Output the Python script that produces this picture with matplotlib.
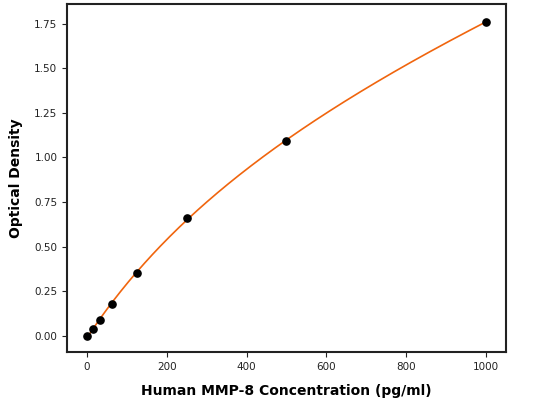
import numpy as np
import matplotlib
matplotlib.use("Agg")
import matplotlib.pyplot as plt

# Standard curve data
conc = np.array([0, 15.6, 31.25, 62.5, 125, 250, 500, 1000])
od = np.array([0.000, 0.040, 0.090, 0.180, 0.355, 0.660, 1.095, 1.760])

# Smooth fitted curve through the standards (linearised rational fit)
A = np.column_stack([np.ones_like(conc), conc, conc**2, -conc * od])
p0, p1, p2, q = np.linalg.lstsq(A, od, rcond=None)[0]
x_fit = np.linspace(0, 1000, 300)
y_fit = (p0 + p1 * x_fit + p2 * x_fit**2) / (1 + q * x_fit)

fig = plt.figure(figsize=(5.33, 4), dpi=100)
ax = fig.add_axes([0.126, 0.12, 0.823, 0.87])

ax.plot(x_fit, y_fit, color='#f0650e', linewidth=1.2, zorder=2)
ax.scatter(conc, od, color='black', s=27, zorder=3)

ax.set_xlim(-50, 1050)
ax.set_ylim(-0.09, 1.86)
ax.set_xticks([0, 200, 400, 600, 800, 1000])
ax.set_yticks([0, 0.25, 0.5, 0.75, 1.0, 1.25, 1.5, 1.75])
ax.yaxis.set_major_formatter(matplotlib.ticker.FormatStrFormatter('%.2f'))
ax.tick_params(labelsize=7.5, colors='#222222')

for s in ax.spines.values():
    s.set_linewidth(1.5)
    s.set_color('#222222')

ax.set_xlabel('Human MMP-8 Concentration (pg/ml)', fontsize=10, fontweight='bold', labelpad=9)
ax.set_ylabel('Optical Density', fontsize=10, fontweight='bold', labelpad=8)

fig.savefig('out.png', dpi=100)
